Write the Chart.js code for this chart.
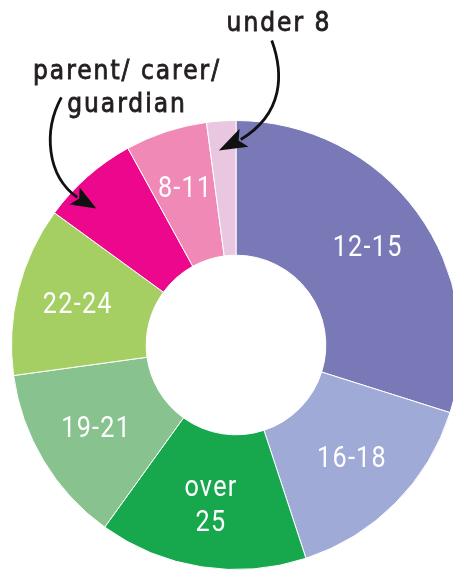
<!DOCTYPE html>
<html>
<head>
<meta charset="utf-8">
<script src="https://cdn.jsdelivr.net/npm/chart.js@4.4.0/dist/chart.umd.min.js"></script>
<style>
    html, body { margin: 0; padding: 0; background: #fff; overflow: hidden; }
</style>
</head>
<body>
<canvas id="ageChart" width="472" height="570"></canvas>
<script>
// Age groups, clockwise from 12 o'clock
const ageGroups = ['12-15', '16-18', 'over 25', '19-21', '22-24', 'parent/ carer/ guardian', '8-11', 'under 8'];
const shares = [29.9, 15.1, 15.0, 12.9, 12.2, 7.0, 5.9, 2.1];
const sliceColours = ['#7a79b8', '#a0aad7', '#17a74d', '#88c28e', '#a5ce63', '#ec078d', '#f089b6', '#eac7e0'];
// text written inside a slice (empty = labelled outside with an arrow)
const insideText = [['12-15'], ['16-18'], ['over', '25'], ['19-21'], ['22-24'], [], ['8-11'], []];
// slices labelled outside
const calloutText = {
    'under 8': ['under 8'],
    'parent/ carer/ guardian': ['parent/ carer/', 'guardian']
};

const sliceLabels = {
    id: 'sliceLabels',
    afterDatasetsDraw(chart) {
        const ctx = chart.ctx;
        const meta = chart.getDatasetMeta(0);
        ctx.save();
        ctx.fillStyle = '#fff';
        ctx.font = '30px Roboto';
        ctx.letterSpacing = '1.5px';
        ctx.textAlign = 'center';
        ctx.textBaseline = 'middle';
        meta.data.forEach((arc, i) => {
            const lines = insideText[i];
            if (!lines.length) return;
            const a = (arc.startAngle + arc.endAngle) / 2;
            const r = (arc.innerRadius + arc.outerRadius) / 2 + 6;
            const px = arc.x + Math.cos(a) * r;
            const py = arc.y + Math.sin(a) * r;
            const lh = 35;
            lines.forEach((t, j) => {
                ctx.save();
                ctx.translate(px, py + (j - (lines.length - 1) / 2) * lh);
                ctx.scale(0.84, 1);
                ctx.fillText(t, 0, 0);
                ctx.restore();
            });
        });
        ctx.restore();
    }
};

// draws an arrow ending at a point inside the slice
function arrow(ctx, tip, path) {
    const [s, c1, c2, e] = path.map(o => ({x: tip.x + o[0], y: tip.y + o[1]}));
    ctx.beginPath();
    ctx.moveTo(s.x, s.y);
    ctx.bezierCurveTo(c1.x, c1.y, c2.x, c2.y, e.x, e.y);
    ctx.stroke();
    const dx = tip.x - e.x, dy = tip.y - e.y;
    const len = Math.hypot(dx, dy);
    const nx = -dy / len, ny = dx / len;
    const w = 10;
    ctx.beginPath();
    ctx.moveTo(tip.x, tip.y);
    ctx.lineTo(e.x - dx * 0.15 + nx * w, e.y - dy * 0.15 + ny * w);
    ctx.lineTo(e.x + dx * 0.1, e.y + dy * 0.1);
    ctx.lineTo(e.x - dx * 0.15 - nx * w, e.y - dy * 0.15 - ny * w);
    ctx.closePath();
    ctx.fill();
}

const callouts = {
    id: 'callouts',
    afterDraw(chart) {
        const ctx = chart.ctx;
        const meta = chart.getDatasetMeta(0);
        const tipOf = (label) => {
            const arc = meta.data[ageGroups.indexOf(label)];
            const a = arc.startAngle + (arc.endAngle - arc.startAngle) * 0.33;
            const r = arc.outerRadius * 0.87;
            return {x: arc.x + Math.cos(a) * r, y: arc.y + Math.sin(a) * r};
        };
        ctx.save();
        ctx.fillStyle = '#231f20';
        ctx.strokeStyle = '#231f20';
        ctx.lineWidth = 0.8;
        ctx.font = '26px "DejaVu Sans Condensed"';
        ctx.letterSpacing = '2px';
        ctx.textAlign = 'center';
        ctx.textBaseline = 'alphabetic';
        const put = (t, x, y) => { ctx.fillText(t, x, y); ctx.strokeText(t, x, y); };
        calloutText['under 8'].forEach((t, j) => put(t, 279, 31 + j * 33));
        calloutText['parent/ carer/ guardian'].forEach((t, j) => put(t, 127, 79 + j * 33));

        ctx.fillStyle = '#111';
        ctx.strokeStyle = '#111';
        ctx.lineWidth = 2.8;
        ctx.letterSpacing = '0px';
        arrow(ctx, tipOf('under 8'), [[53, -110], [65, -77], [65, -37], [22, -11]]);
        arrow(ctx, tipOf('parent/ carer/ guardian'), [[-35, -111], [-53, -78], [-50, -33], [-19, -11]]);
        ctx.restore();
    }
};

new Chart(document.getElementById('ageChart'), {
    type: 'doughnut',
    data: {
        labels: ageGroups,
        datasets: [{
            data: shares,
            backgroundColor: sliceColours,
            borderColor: '#fff',
            borderWidth: 1,
            hoverOffset: 0
        }]
    },
    options: {
        responsive: false,
        animation: false,
        cutout: '40%',
        layout: { padding: { top: 120, left: 11, right: 11, bottom: 0 } },
        plugins: {
            legend: { display: false },
            tooltip: { enabled: false }
        }
    },
    plugins: [sliceLabels, callouts]
});
</script>
</body>
</html>
